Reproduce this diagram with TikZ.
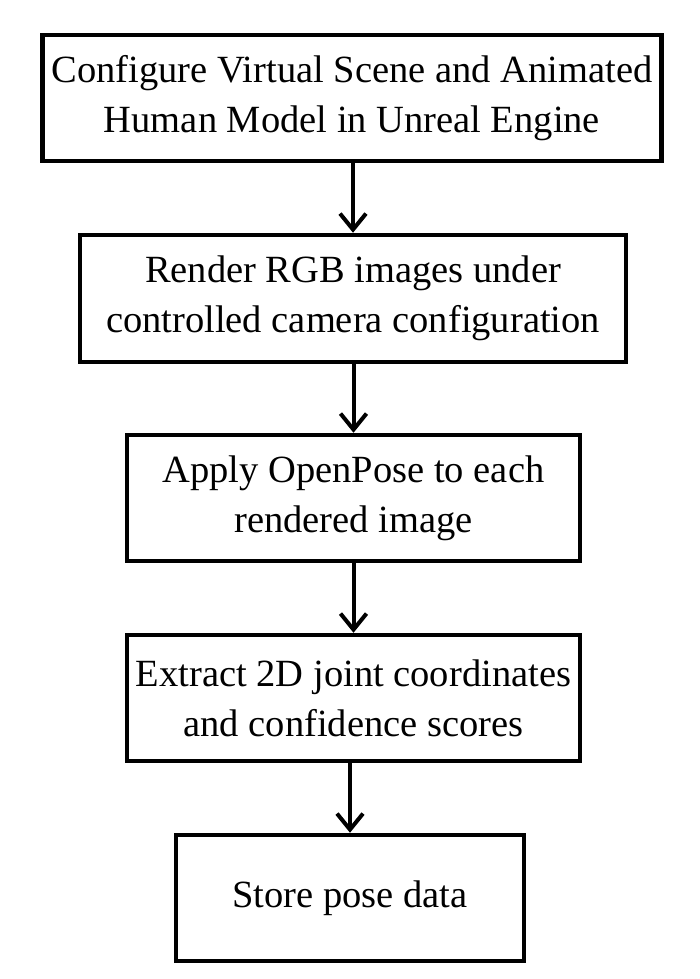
\documentclass[tikz,border=0pt]{standalone}
\usepackage{fontspec}
\setmainfont{Liberation Serif}
\usetikzlibrary{arrows.meta}
\tikzset{
  stepbox/.style={draw=black, line width=4.5pt, rectangle, align=center, inner sep=0pt,
    font=\fontsize{38.5}{50}\selectfont, text=black},
  flowarrow/.style={line width=4pt, -{Straight Barb[length=16pt, width=26pt, line width=4pt]}}
}
\begin{document}
\begin{tikzpicture}[x=1pt, y=1pt]
\useasboundingbox[fill=white] (0,0) rectangle (700,-979);
\node[stepbox, minimum width=619pt, minimum height=126pt] (b1) at (352,-98)
  {Configure Virtual Scene and Animated\\Human Model in Unreal Engine};
\node[stepbox, minimum width=546pt, minimum height=127pt] (b2) at (353,-298.5)
  {Render RGB images under\\controlled camera configuration};
\node[stepbox, minimum width=453pt, minimum height=126pt] (b3) at (353.5,-498)
  {Apply OpenPose to each\\rendered image};
\node[stepbox, minimum width=453pt, minimum height=126pt] (b4) at (353.5,-698)
  {Extract 2D joint coordinates\\and confidence scores};
\node[stepbox, minimum width=348pt, minimum height=126pt] (b5) at (350,-898)
  {Store pose data};
\draw[flowarrow] (b2.north |- b1.south) -- (b2.north);
\draw[flowarrow] (b3.north |- b2.south) -- (b3.north);
\draw[flowarrow] (b4.north |- b3.south) -- (b4.north);
\draw[flowarrow] (b5.north |- b4.south) -- (b5.north);
\end{tikzpicture}
\end{document}
